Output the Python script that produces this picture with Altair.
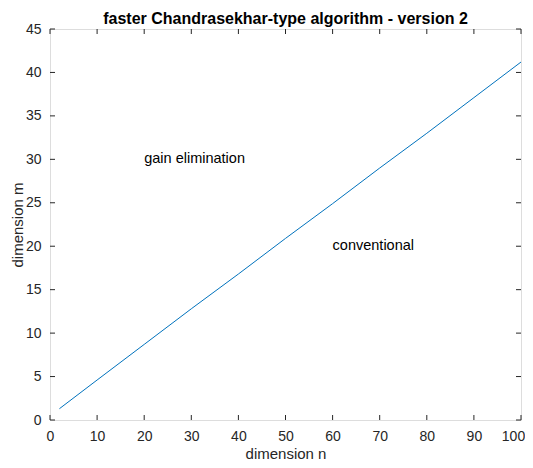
import altair as alt
import pandas as pd

# Data
n_vals = [2, 10, 20, 30, 40, 50, 60, 70, 80, 90, 100]
m_vals = [1.3, 4.6, 8.7, 12.8, 16.8, 20.9, 24.9, 29.0, 33.0, 37.1, 41.2]

x_ticks = [0, 10, 20, 30, 40, 50, 60, 70, 80, 90, 100]
y_ticks = [0, 5, 10, 15, 20, 25, 30, 35, 40, 45]

label_texts = ["gain elimination", "conventional"]
label_x = [20, 60]
label_y = [30, 20]

W, H = 471, 391
AX = "#262626"
FONT = "Liberation Sans"

line_df = pd.DataFrame({"n": n_vals, "m": m_vals})
xt_df = pd.DataFrame({"t": x_ticks})
yt_df = pd.DataFrame({"t": y_ticks})
lab_df = pd.DataFrame({"txt": label_texts, "x": label_x, "y": label_y})

xscale = alt.Scale(domain=[0, 100], nice=False, zero=False)
yscale = alt.Scale(domain=[0, 45], nice=False, zero=False)

xaxis = alt.Axis(values=x_ticks, ticks=False, grid=False, domain=False,
                 labelFontSize=14, labelColor=AX, labelFont=FONT, labelPadding=9,
                 labelOffset=alt.ConditionalAxisNumber(
                     condition={"test": "datum.value == 100", "value": -8}, value=0),
                 title="dimension n", titleFontSize=15, titleFontWeight="normal",
                 titleColor=AX, titleFont=FONT, titleY=38, titleBaseline="alphabetic",
                 labelFlush=False)
yaxis = alt.Axis(values=y_ticks, ticks=False, grid=False, domain=False,
                 labelFontSize=14, labelColor=AX, labelFont=FONT, labelPadding=9,
                 title="dimension m", titleFontSize=15, titleFontWeight="normal",
                 titleColor=AX, titleFont=FONT, titlePadding=0, labelFlush=False)

line = alt.Chart(line_df).mark_line(color="#0072BD", strokeWidth=1).encode(
    x=alt.X("n:Q", scale=xscale, axis=xaxis),
    y=alt.Y("m:Q", scale=yscale, axis=yaxis),
)

tk = dict(color=AX, strokeWidth=1)
xb = alt.Chart(xt_df).mark_rule(**tk).encode(
    x=alt.X("t:Q", scale=xscale), y=alt.value(H), y2=alt.value(H - 5))
xtp = alt.Chart(xt_df).mark_rule(**tk).encode(
    x=alt.X("t:Q", scale=xscale), y=alt.value(0), y2=alt.value(5))
yl = alt.Chart(yt_df).mark_rule(**tk).encode(
    y=alt.Y("t:Q", scale=yscale), x=alt.value(0), x2=alt.value(5))
yr = alt.Chart(yt_df).mark_rule(**tk).encode(
    y=alt.Y("t:Q", scale=yscale), x=alt.value(W), x2=alt.value(W - 5))

labels = alt.Chart(lab_df).mark_text(align="left", baseline="middle",
                                     fontSize=14.5, font=FONT, color="black").encode(
    x=alt.X("x:Q", scale=xscale), y=alt.Y("y:Q", scale=yscale), text="txt:N")

chart = alt.layer(line, xb, xtp, yl, yr, labels).properties(
    width=W, height=H,
    autosize=alt.AutoSizeParams(type="none"),
    padding={"left": 42, "top": 21, "right": 4, "bottom": 40},
    title=alt.TitleParams("faster Chandrasekhar-type algorithm - version 2",
                          fontSize=16, font=FONT, fontWeight="bold",
                          color="black", offset=0, dy=5),
).configure_view(stroke=AX, strokeWidth=1).configure(background="white")

chart.save("out.html", embed_options={"renderer": "svg", "actions": False})
